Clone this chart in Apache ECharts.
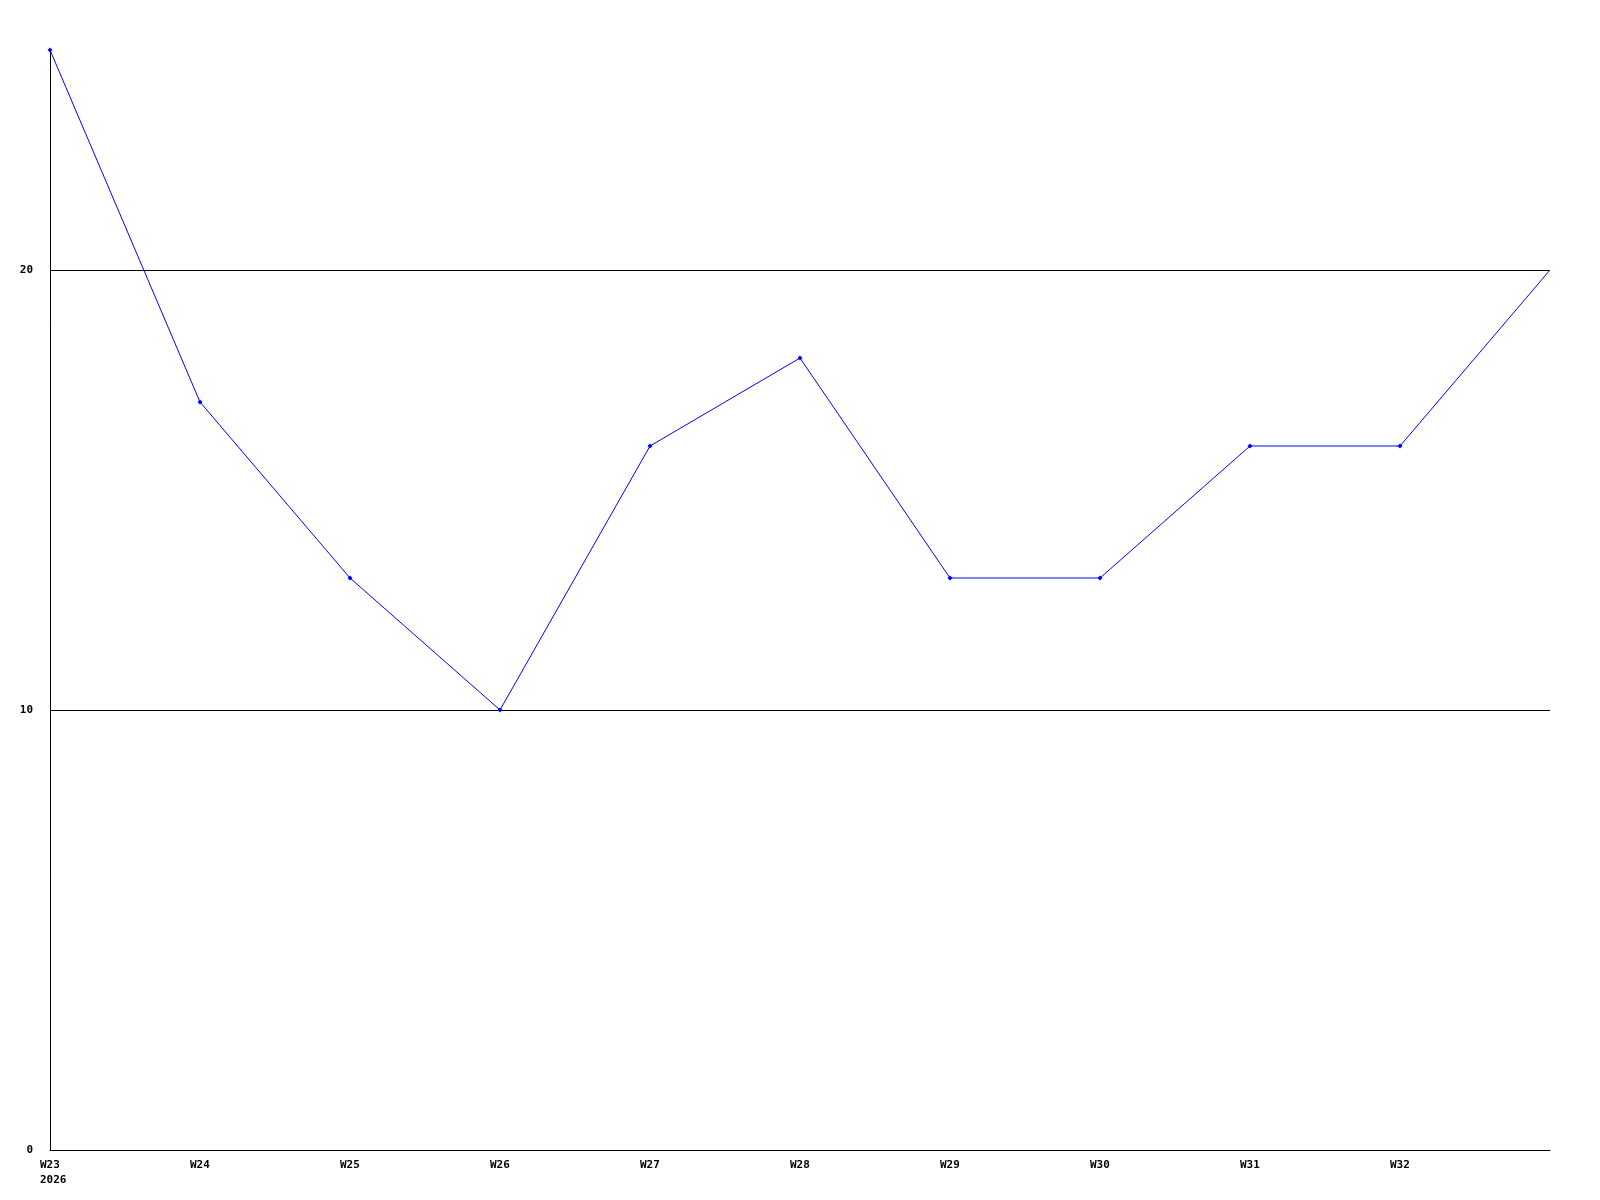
<!DOCTYPE html>
<html>
<head>
<meta charset="utf-8">
<script src="https://cdn.jsdelivr.net/npm/echarts@6/dist/echarts.min.js"></script>
<style>html,body{margin:0;padding:0;background:#fff}#c{width:1600px;height:1200px}</style>
</head>
<body>
<div id="c"></div>
<script>
const categories = ['W23\n2026','W24','W25','W26','W27','W28','W29','W30','W31','W32',''];
const values = [25, 17, 13, 10, 16, 18, 13, 13, 16, 16, 20];
const yTicks = [0, 10, 20];

const chart = echarts.init(document.getElementById('c'), null, {renderer: 'canvas'});
const data = values.map((v, i) => i === values.length - 1 ? {value: v, symbol: 'none'} : v);
chart.setOption({
  animation: false,
  backgroundColor: '#fff',
  grid: {left: 50, right: 50, top: 50, bottom: 50},
  xAxis: {
    type: 'category',
    data: categories,
    boundaryGap: false,
    axisLine: {show: true, lineStyle: {color: '#000', width: 1}},
    axisTick: {show: false},
    axisLabel: {
      interval: 0, color: '#000', fontFamily: 'DejaVu Sans Mono', fontWeight: 'bold',
      fontSize: 11, margin: 8, lineHeight: 15, align: 'center',
      width: 20, overflow: 'none',
      formatter: v => v.split('\n').map(s => '{a|' + s + '}').join('\n'),
      rich: {a: {align: 'left', color: '#000', fontFamily: 'DejaVu Sans Mono', fontWeight: 'bold', fontSize: 11, lineHeight: 15}}
    },
    splitLine: {show: false}
  },
  yAxis: {
    type: 'value',
    min: 0, max: 25, interval: 10,
    axisLine: {show: true, lineStyle: {color: '#000', width: 1}},
    axisTick: {show: false},
    axisLabel: {
      color: '#000', fontFamily: 'DejaVu Sans Mono', fontWeight: 'bold', fontSize: 11,
      margin: 17, showMaxLabel: false,
      formatter: v => yTicks.includes(v) ? String(v) : ''
    },
    splitLine: {show: true, showMaxLine: false, lineStyle: {color: '#000', width: 1}}
  },
  series: [{
    type: 'line',
    data: data,
    symbol: 'diamond',
    symbolSize: 5,
    itemStyle: {color: '#0000ff'},
    lineStyle: {color: '#0000ff', width: 1}
  }]
});
</script>
</body>
</html>
